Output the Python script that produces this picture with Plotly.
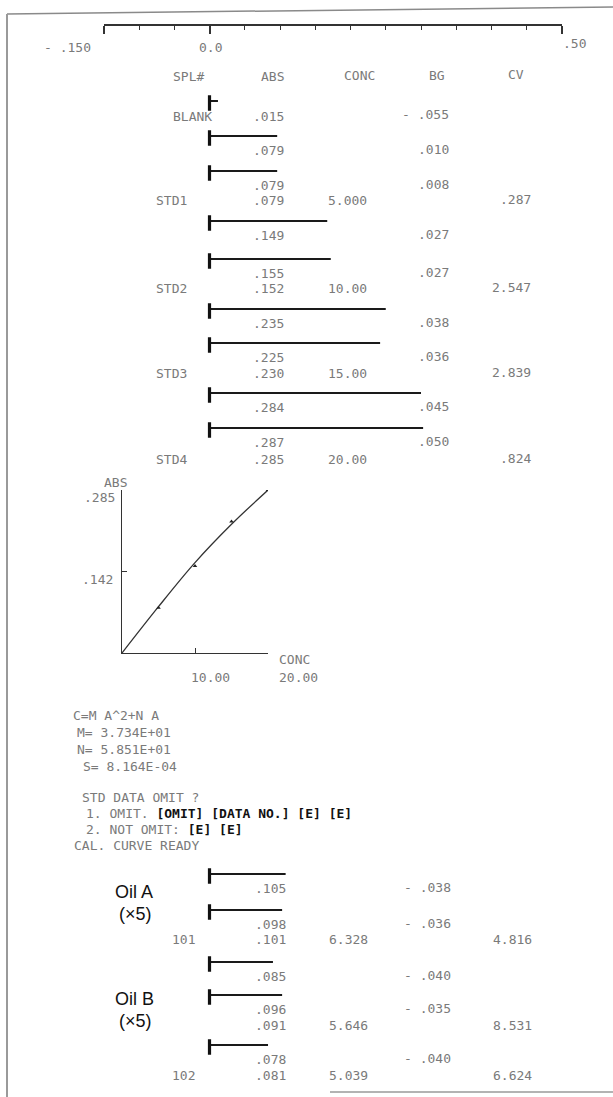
import plotly.graph_objects as go

W, H = 613, 1097

# ---------------- data ----------------
scale_ticks = [-0.15, -0.10, -0.05, 0.0, 0.05, 0.10, 0.15, 0.20, 0.25, 0.30, 0.35, 0.40, 0.45, 0.50]
scale_major = [-0.15, 0.0, 0.50]
scale_labels = ["- .150", "0.0", ".50"]

headers = ["SPL#", "ABS", "CONC", "BG", "CV"]

blank_label = "BLANK"
blank_abs = 0.015
blank_bg = -0.055
blank_bar = 0.012

# individual readings (bars) of the standards
std_read_bar = [0.096, 0.096, 0.167, 0.172, 0.250, 0.242, 0.300, 0.303]
std_read_abs = [0.079, 0.079, 0.149, 0.155, 0.235, 0.225, 0.284, 0.287]
std_read_bg = [0.010, 0.008, 0.027, 0.027, 0.038, 0.036, 0.045, 0.050]

# standard summaries
std_labels = ["STD1", "STD2", "STD3", "STD4"]
std_abs = [0.079, 0.152, 0.230, 0.285]
std_conc = [5.000, 10.00, 15.00, 20.00]
std_cv = [0.287, 2.547, 2.839, 0.824]

# calibration plot: standard points and fitted curve
cal_conc = [5.000, 10.00, 15.00, 20.00]
cal_abs = [0.079, 0.152, 0.230, 0.285]
curve_conc = [0, 5, 10, 15, 20]
curve_abs = [0, 0.081, 0.158, 0.225, 0.285]
cal_xticks = [10.00, 20.00]
cal_xtick_text = ["10.00", "20.00"]
cal_yticks = [0.142, 0.285]
cal_ytick_text = [".142", ".285"]

fit_text = ["C=M A^2+N A", "M= 3.734E+01", "N= 5.851E+01", "S= 8.164E-04"]
prompt_text = ["STD DATA OMIT ?",
               "1. OMIT. <b>[OMIT] [DATA NO.] [E] [E]</b>",
               "2. NOT OMIT: <b>[E] [E]</b>",
               "CAL. CURVE READY"]

# oil samples
oil_read_bar = [0.108, 0.103, 0.090, 0.103, 0.083]
oil_read_abs = [0.105, 0.098, 0.085, 0.096, 0.078]
oil_read_bg = [-0.038, -0.036, -0.040, -0.035, -0.040]
oil_labels = ["101", "", "102"]
oil_abs = [0.101, 0.091, 0.081]
oil_conc = [6.328, 5.646, 5.039]
oil_cv = [4.816, 8.531, 6.624]
sample_names = ["Oil A", "(×5)", "Oil B", "(×5)"]

# ---------------- layout (pixel positions of print lines) ----------------
HEADER_Y = [76, 76, 75, 75, 74]
HEADER_X = [(172, "left"), (285, "right"), (343, "left"), (428, "left"), (507, "left")]
BLANK_BAR_Y = 101
BLANK_ROW_Y = 116
STD_BAR_Y = [136, 171, 221, 259, 309, 343, 393, 428]
STD_ROW_Y = [200, 288, 373, 459]
OIL_BAR_Y = [874, 910, 962, 995, 1045]
OIL_ROW_Y = [939, 1025, 1075]
NAME_POS = [(134, 892), (135, 914), (134, 999), (135, 1021)]
READ_DY = 14
COL_ABS, COL_CONC, COL_BG, COL_CV = 285, 368, 450, 532
SPL_X_STD, SPL_X_BLANK, SPL_X_OIL = 155, 172, 171
GRAY = "#7a7a7a"
MONO = "DejaVu Sans Mono, Liberation Mono, monospace"
ORIGIN_PX, PX_PER_UNIT = 209.5, 705.0


def f_abs(v):
    s = f"{abs(v):.3f}".lstrip("0")
    return ("- " + s) if v < 0 else s


def f_conc(v):
    n = len(str(int(v)))
    return f"{v:.{4 - n}f}"


def f_cv(v):
    s = f"{v:.3f}"
    return s.lstrip("0") if v < 1 else s


ann = []


def txt(x, y, s, anchor="right", size=13, color=GRAY, family=MONO):
    ann.append(dict(x=x / W, y=y, xref="paper", yref="y", text=s, showarrow=False,
                    xanchor=anchor, yanchor="middle", borderpad=0,
                    font=dict(family=family, size=size, color=color)))


fig = go.Figure()

# bars (readings) on the absorbance scale
bar_len = [blank_bar] + std_read_bar + oil_read_bar
bar_y = [BLANK_BAR_Y] + STD_BAR_Y + OIL_BAR_Y
fig.add_trace(go.Bar(orientation="h", x=bar_len, y=bar_y, base=0, width=1.7,
                     marker=dict(color="#1a1a1a", line=dict(width=0)),
                     xaxis="x", yaxis="y", hoverinfo="skip"))
fig.add_trace(go.Scatter(x=[0.0] * len(bar_y), y=[b + 2 for b in bar_y], mode="markers",
                         marker=dict(symbol="line-ns", size=11,
                                     line=dict(width=3.2, color="#111")),
                         xaxis="x", yaxis="y", hoverinfo="skip"))

# calibration curve
fig.add_trace(go.Scatter(x=curve_conc, y=curve_abs, mode="lines", line_shape="spline",
                         line=dict(color="#333", width=1.3), xaxis="x2", yaxis="y2",
                         hoverinfo="skip"))
fig.add_trace(go.Scatter(x=cal_conc, y=cal_abs, mode="markers",
                         marker=dict(symbol="triangle-up", size=4, color="#222"),
                         xaxis="x2", yaxis="y2", hoverinfo="skip"))

# ---------- text ----------
txt(43, 47, scale_labels[0], "left")
txt(210, 47, scale_labels[1], "center")
txt(562, 43, scale_labels[2], "left")

for (hx, anc), hy, h in zip(HEADER_X, HEADER_Y, headers):
    txt(hx, hy, h, anc)

txt(SPL_X_BLANK, BLANK_ROW_Y, blank_label, "left")
txt(COL_ABS, BLANK_ROW_Y, f_abs(blank_abs))
txt(COL_BG, BLANK_ROW_Y - 2, f_abs(blank_bg))

for by, a, b in zip(STD_BAR_Y, std_read_abs, std_read_bg):
    txt(COL_ABS, by + READ_DY, f_abs(a))
    txt(COL_BG, by + READ_DY - 1, f_abs(b))

for ry, lab, a, c, cv in zip(STD_ROW_Y, std_labels, std_abs, std_conc, std_cv):
    txt(SPL_X_STD, ry, lab, "left")
    txt(COL_ABS, ry, f_abs(a))
    txt(COL_CONC, ry, f_conc(c))
    txt(COL_CV, ry - 1, f_cv(cv))

for by, a, b in zip(OIL_BAR_Y, oil_read_abs, oil_read_bg):
    txt(COL_ABS + 2, by + READ_DY, f_abs(a))
    txt(COL_BG + 2, by + READ_DY - 1, f_abs(b))

for ry, lab, a, c, cv in zip(OIL_ROW_Y, oil_labels, oil_abs, oil_conc, oil_cv):
    if lab:
        txt(SPL_X_OIL, ry, lab, "left")
    txt(COL_ABS + 2, ry, f_abs(a))
    txt(COL_CONC + 1, ry, f_conc(c))
    txt(COL_CV + 1, ry, f_cv(cv))

for (nx, ny), s in zip(NAME_POS, sample_names):
    txt(nx, ny, s, "center", size=18, color="#111",
        family="Liberation Sans, Arial, sans-serif")

# calibration labels
txt(103, 482, "ABS", "left")
txt(116, 497, cal_ytick_text[1])
txt(114, 579, cal_ytick_text[0])
txt(278, 659, "CONC", "left")
txt(190, 677, cal_xtick_text[0], "left")
txt(278, 677, cal_xtick_text[1], "left")

for (lx, ly), s in zip([(72, 715), (76, 732), (76, 749), (82, 766)], fit_text):
    txt(lx, ly, s, "left")
for (lx, ly), s in zip([(81, 797), (85, 813), (85, 829), (73, 845)], prompt_text):
    txt(lx, ly, s.replace("<b>", "<b><span style='color:#111'>").replace("</b>", "</span></b>"), "left")

# frame
shapes = [
    dict(type="line", xref="paper", yref="y", x0=7 / W, y0=14, x1=1, y1=7,
         line=dict(color="#8a8a8a", width=1.5)),
    dict(type="line", xref="paper", yref="y", x0=7 / W, y0=14, x1=7 / W, y1=H,
         line=dict(color="#9a9a9a", width=2)),
    dict(type="line", xref="paper", yref="y", x0=330 / W, y0=1092, x1=1, y1=1092,
         line=dict(color="#9a9a9a", width=1.5)),
]

x_lo = scale_ticks[0]
x_hi = scale_ticks[-1]
dom_x0 = (ORIGIN_PX + x_lo * PX_PER_UNIT) / W
dom_x1 = (ORIGIN_PX + x_hi * PX_PER_UNIT) / W

fig.update_layout(
    width=W, height=H, margin=dict(l=0, r=0, t=0, b=0),
    paper_bgcolor="white", plot_bgcolor="rgba(0,0,0,0)",
    showlegend=False, barmode="overlay",
    xaxis=dict(domain=[dom_x0, dom_x1], range=[x_lo, x_hi], anchor="free",
               position=1 - 25 / H, side="bottom", showline=True, linecolor="#333",
               linewidth=1.5, ticks="outside", tickvals=scale_major, ticklen=8,
               tickwidth=1.5, tickcolor="#333", showticklabels=False, showgrid=False,
               zeroline=False, fixedrange=True,
               minor=dict(tickmode="array",
                          tickvals=[t for t in scale_ticks if t not in scale_major],
                          ticks="outside", ticklen=4, tickwidth=1.3, tickcolor="#333",
                          showgrid=False)),
    yaxis=dict(domain=[0, 1], range=[H, 0], visible=False, fixedrange=True),
    xaxis2=dict(domain=[122 / W, 268 / W], range=[0, 20], anchor="y2", showline=True,
                linecolor="#333", linewidth=1.3, ticks="inside", tickvals=cal_xticks,
                ticklen=5, tickcolor="#333", showticklabels=False, showgrid=False,
                zeroline=False),
    yaxis2=dict(domain=[1 - 653 / H, 1 - 490 / H], range=[0, 0.285], anchor="x2",
                showline=True, linecolor="#333", linewidth=1.3, ticks="inside",
                tickvals=cal_yticks, ticklen=5, tickcolor="#333", showticklabels=False,
                showgrid=False, zeroline=False),
    annotations=ann, shapes=shapes,
)

fig.write_html("out.html", config={"displayModeBar": False},
               post_script="document.body.style.margin='0';"
                           "document.body.style.overflow='hidden';")
